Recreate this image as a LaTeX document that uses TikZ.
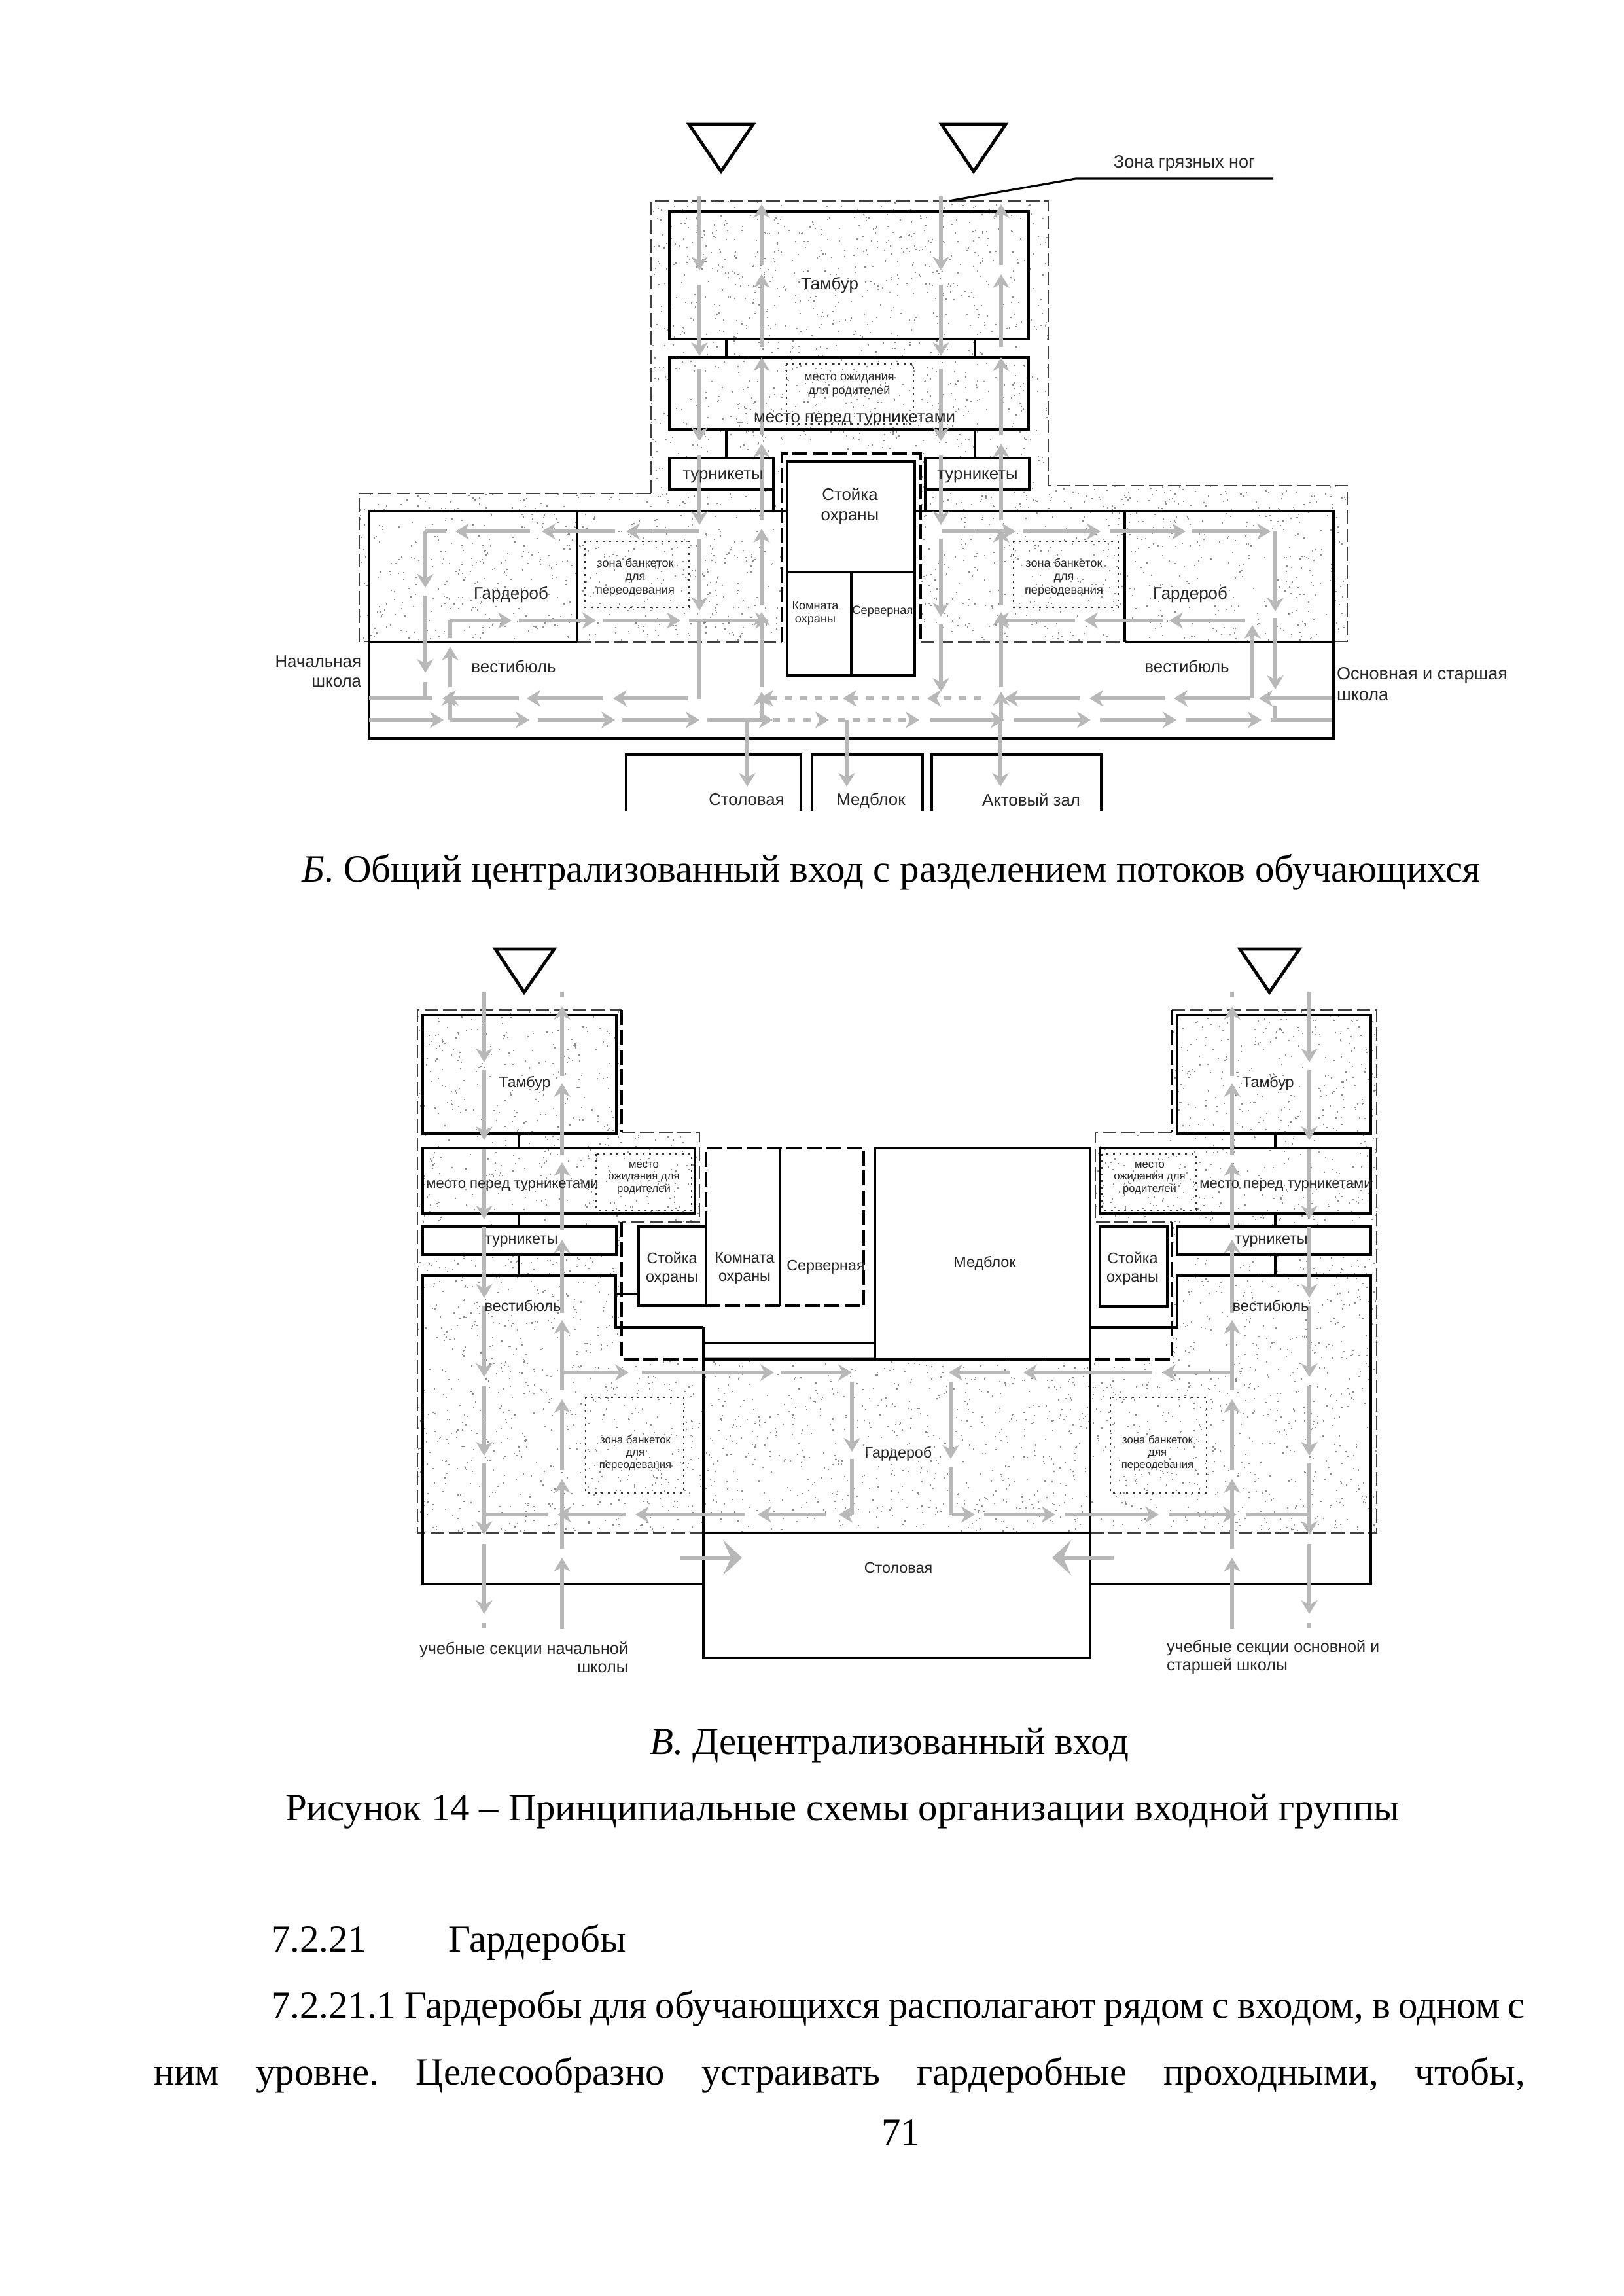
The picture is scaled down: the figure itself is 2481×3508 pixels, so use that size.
\documentclass[tikz,border=0pt]{standalone}
\usepackage{fontspec}
\setmainfont{Liberation Serif}
\newfontfamily\dsans{Liberation Sans}
\usetikzlibrary{arrows.meta,calc}
\definecolor{flowgray}{gray}{0.72}
\newcounter{labn}
\tikzset{
  wall/.style={draw=black,line width=1.15pt,line join=miter},
  thinwall/.style={draw=black,line width=0.75pt},
  room/.style={wall,rectangle,inner sep=0pt,outer sep=0pt},
  zone/.style={draw=black!75,line width=0.5pt,dash pattern=on 5pt off 1.8pt},
  zonethick/.style={draw=black,line width=0.95pt,dash pattern=on 5.5pt off 1.8pt},
  dotbox/.style={draw=black!80,line width=0.65pt,dash pattern=on 0.65pt off 1.75pt},
  fline/.style={draw=flowgray,line width=1.4pt},
  farrow/.style={draw=flowgray,line width=1.4pt,-{Stealth[length=5pt,width=6pt,inset=1.5pt]}},
  fdash/.style={draw=flowgray,line width=1.4pt,dash pattern=on 2.6pt off 3pt,-{Stealth[length=5pt,width=6pt,inset=1.5pt]}},
  farrowbig/.style={draw=flowgray,line width=1.4pt,-{Stealth[length=7pt,width=13pt,inset=3pt]}},
  lab/.style={inner sep=0pt,outer sep=0pt,align=center,text=black!85},
  tL/.style={lab,font=\dsans\fontsize{6.2}{7.3}\selectfont},
  tW/.style={lab,font=\dsans\fontsize{6.5}{7.6}\selectfont},
  tM/.style={lab,font=\dsans\fontsize{5.6}{6.6}\selectfont},
  tN/.style={lab,font=\dsans\fontsize{5.3}{6.2}\selectfont},
  tU/.style={lab,font=\dsans\fontsize{6.05}{6.8}\selectfont},
  tS/.style={lab,font=\dsans\fontsize{4.35}{4.9}\selectfont},
  tT/.style={lab,font=\dsans\fontsize{4}{4.5}\selectfont},
  body/.style={inner sep=0pt,outer sep=0pt,anchor=base west,font=\fontsize{14.13}{16}\selectfont\frenchspacing},
}
% [opts]{name}{x1}{y1}{x2}{y2}
\newcommand\room[6][]{\node[room,#1,minimum width={(#5-#3)*0.24pt},minimum height={(#6-#4)*0.24pt}] (#2) at ({(#3+#5)/2},{(#4+#6)/2}) {};}
\newcommand\lab[4][tL]{\stepcounter{labn}\node[#1] (lab\thelabn) at (#2,#3) {#4};}
\newcommand\vflow[2]{\foreach \a/\b in {#2}{\draw[farrow] (#1,\a) -- (#1,\b);}}
\newcommand\hflow[2]{\foreach \a/\b in {#2}{\draw[farrow] (\a,#1) -- (\b,#1);}}
\newcommand\vplain[2]{\foreach \a/\b in {#2}{\draw[fline] (#1,\a) -- (#1,\b);}}
\newcommand\hplain[2]{\foreach \a/\b in {#2}{\draw[fline] (\a,#1) -- (\b,#1);}}
\newcommand\hdash[2]{\foreach \a/\b in {#2}{\draw[fdash] (\a,#1) -- (\b,#1);}}
\newcommand\stipple[5]{\foreach \i in {1,...,#1}{\pgfmathrandominteger{\rx}{#2}{#4}\pgfmathrandominteger{\ry}{#3}{#5}\fill[black!45] (\rx,\ry) rectangle ++(2,2);}}
\begin{document}
\begin{tikzpicture}[x=0.24pt,y=-0.24pt]
\useasboundingbox (0,0) rectangle (2481,3508);
\fill[white] (0,0) rectangle (2481,3508);
\pgfmathsetseed{714}
% ---------- figure B: stipple
\begin{scope}
\clip (995,307)--(1602,307)--(1602,742)--(2059,742)--(2059,980)--(1407,980)--(1407,693)--(1195,693)--(1195,980)--(549,980)--(549,754)--(995,754)--cycle;
\stipple{4500}{549}{307}{2059}{980}
\end{scope}
% zone outline
\draw[zone] (995,754)--(995,307)--(1602,307)--(1602,742)--(2059,742)--(2059,980)--(1719,980);
\draw[zone] (995,754)--(549,754)--(549,980)--(564,980);
\draw[zone] (882,981)--(1195,981);
\draw[zone] (1407,981)--(1719,981);
\draw[zonethick] (1195,981)--(1195,693)--(1407,693)--(1407,981);
% triangles
\draw[wall] (1053,190)--(1151,190)--(1102,262)--cycle;
\draw[wall] (1439,190)--(1537,190)--(1488,262)--cycle;
% leader
\coordinate (leadA) at (1450,307);
\coordinate (leadB) at (1644,273);
\coordinate (leadC) at (1946,273);
\draw[thinwall] (leadA)--(leadB)--(leadC);
% rooms
\room{hallB}{564}{781}{2038}{1128}
\draw[wall] (564,981)--(882,981);
\draw[wall] (1719,981)--(2038,981);
\draw[wall] (882,781)--(882,981);
\draw[wall] (1719,781)--(1719,981);
\room{tamburB}{1023}{323}{1572}{518}
\room{placeB}{1023}{546}{1572}{656}
\room[fill=white]{turnBL}{1023}{700}{1182}{748}
\room[fill=white]{turnBR}{1414}{700}{1573}{748}
\room[fill=white]{guardB}{1203}{705}{1398}{1032}
\coordinate (gsplit) at (1203,874);
\coordinate (gsplitb) at (1398,874);
\draw[thinwall] (gsplit)--(gsplitb);
\coordinate (gv) at (1301,874);
\draw[thinwall] (gv)--(guardB.south -| gv);
\coordinate (kL) at (1110,0);
\coordinate (kR) at (1490,0);
\draw[thinwall] (tamburB.south -| kL)--(placeB.north -| kL);
\draw[thinwall] (tamburB.south -| kR)--(placeB.north -| kR);
\draw[thinwall] (placeB.south -| kL)--(turnBL.north -| kL);
\draw[thinwall] (placeB.south -| kR)--(turnBR.north -| kR);
\coordinate (kL2) at (1182,0);
\draw[thinwall] (turnBL.south -| kL2)--(hallB.north -| kL2);
\coordinate (kR2) at (1414,0);
\draw[thinwall] (turnBR.south -| kR2)--(hallB.north -| kR2);
\draw[dotbox] (1202,556) rectangle (1396,648);
\draw[dotbox] (894,827) rectangle (1053,928);
\draw[dotbox] (1549,827) rectangle (1709,928);
% lower rooms (open below)
\draw[thinwall] (957,1239)--(957,1153)--(1224,1153)--(1224,1239);
\draw[thinwall] (1241,1239)--(1241,1153)--(1410,1153)--(1410,1239);
\draw[thinwall] (1424,1239)--(1424,1153)--(1683,1153)--(1683,1239);
% flows B
\vflow{1069}{300/413,435/544,564/674,695/802,823/933}
\vplain{1069}{945/1068}
\vflow{1438}{300/413,435/544,564/674,695/802,823/942,954/1057}
\vflow{1164}{1100/1057,1050/935,925/808,795/678,665/546,530/419,405/312}
\vflow{1530}{1100/1057,1050/935,925/808,795/678,665/546,530/419,405/312}
% left corridors
\hflow{812}{1069/957,940/828,810/696}
\hplain{812}{681/650}
\vflow{650}{812/898,910/1028}
\vplain{650}{1042/1066}
\hflow{948}{688/782,793/911,922/1040,1053/1175}
\vflow{688}{1100/1057,1050/988}
\vplain{688}{975/948}
\hflow{1067}{1051/937,922/805,793/676}
\hplain{1067}{661/564}
\hflow{1100}{564/678,687/809,822/940,951/1069,1081/1181}
\hdash{1067}{1500/1417,1405/1288,1280/1161}
\hdash{1100}{1181/1267,1280/1405}
\hflow{1067}{2036/1924,1910/1794,1780/1665,1650/1535}
\hflow{1100}{1422/1535,1550/1667,1681/1798,1812/1928}
\hplain{1100}{1942/2036}
% right corridors
\hflow{812}{1440/1552,1564/1682,1696/1812,1822/1942}
\vflow{1949}{812/934,944/1053}
\vplain{1949}{1078/1100}
\hflow{948}{1903/1787,1777/1657,1643/1521}
\vflow{1914}{1067/955}
% branches
\vflow{1142}{1100/1202}
\vflow{1294}{1100/1202}
\vflow{1529}{1100/1202}
% labels B
\lab[tW]{1810}{250}{Зона грязных ног}
\lab{1268}{436}{Тамбур}
\lab[tS]{1298}{589}{место ожидания\\для родителей}
\lab{1306}{641}{место перед турникетами}
\lab{1105}{728}{турникеты}
\lab{1494}{728}{турникеты}
\lab{1299}{773}{Стойка\\охраны}
\lab[tS]{1246}{937}{Комната\\охраны}
\lab[tS]{1349}{934}{Серверная}
\lab{781}{909}{Гардероб}
\lab{1819}{909}{Гардероб}
\lab[tS]{971}{882}{зона банкеток\\для\\переодевания}
\lab[tS]{1626}{882}{зона банкеток\\для\\переодевания}
\lab{785}{1018}{вестибюль}
\lab{1814}{1018}{вестибюль}
\stepcounter{labn}\node[tL,anchor=east,align=right] (lab\thelabn) at (552,1026) {Начальная\\школа};
\stepcounter{labn}\node[tW,anchor=west,align=left] (lab\thelabn) at (2043,1045) {Основная и старшая\\школа};
\lab{1141}{1222}{Столовая}
\lab{1331}{1224}{Медблок}
\lab{1576}{1222}{Актовый зал}
% ---------- figure V: stipple
\begin{scope}
\clip (638,1543)--(950,1543)--(950,1730)--(1069,1730)--(1069,1867)--(950,1867)--(950,2077)--(1791,2077)--(1791,1867)--(1674,1867)--(1674,1730)--(1791,1730)--(1791,1543)--(2104,1543)--(2104,2342)--(638,2342)--cycle;
\stipple{5000}{638}{1543}{2104}{2342}
\end{scope}
\draw[zone] (1075,2342)--(638,2342)--(638,1543)--(950,1543);
\draw[zonethick] (950,1543)--(950,1730);
\draw[zone] (950,1730)--(1069,1730)--(1069,1867)--(950,1867);
\draw[zonethick] (950,1867)--(950,2077)--(1075,2077);
\draw[zone] (1666,2342)--(2104,2342)--(2104,1543)--(1791,1543);
\draw[zonethick] (1791,1543)--(1791,1730);
\draw[zone] (1791,1730)--(1674,1730)--(1674,1867)--(1791,1867);
\draw[zonethick] (1791,1867)--(1791,2077)--(1666,2077);
% triangles
\draw[wall] (757,1450)--(847,1450)--(801,1516)--cycle;
\draw[wall] (1895,1450)--(1986,1450)--(1940,1516)--cycle;
% rooms left
\room{tamburVL}{646}{1551}{942}{1732}
\room{placeVL}{646}{1754}{1062}{1854}
\room[fill=white]{turnVL}{646}{1874}{942}{1917}
\draw[wall] (1075,2420)--(646,2420)--(646,1949)--(941,1949)--(941,2028)--(1075,2028);
\draw[thinwall] (1075,2028)--(1075,2342);
\coordinate (kVL) at (793,0);
\draw[thinwall] (tamburVL.south -| kVL)--(placeVL.north -| kVL);
\draw[thinwall] (placeVL.south -| kVL)--(turnVL.north -| kVL);
\coordinate (hVL) at (793,1949);
\draw[thinwall] (turnVL.south -| kVL)--(hVL);
% rooms right
\room{tamburVR}{1799}{1551}{2095}{1732}
\room{placeVR}{1681}{1754}{2095}{1854}
\room[fill=white]{turnVR}{1799}{1874}{2095}{1917}
\room{guardVR}{1681}{1874}{1784}{1996}
\draw[wall] (1666,2420)--(2095,2420)--(2095,1949)--(1799,1949)--(1799,2028)--(1666,2028);
\draw[thinwall] (1666,2028)--(1666,2342);
\coordinate (kVR) at (1949,0);
\draw[thinwall] (tamburVR.south -| kVR)--(placeVR.north -| kVR);
\draw[thinwall] (placeVR.south -| kVR)--(turnVR.north -| kVR);
\coordinate (hVR) at (1949,1949);
\draw[thinwall] (turnVR.south -| kVR)--(hVR);
% middle
\room{medV}{1337}{1754}{1666}{2077}
\room{canteenV}{1075}{2342}{1666}{2533}
\draw[wall] (1075,2077)--(medV.south west);
\coordinate (wl) at (1075,2052);
\draw[thinwall] (wl)--(medV.west |- wl);
\room{guardVL}{976}{1874}{1079}{1995}
\coordinate (wc) at (941,1977);
\draw[thinwall] (wc)--(guardVL.west |- wc);
\draw[zonethick] (1079,1874)--(1079,1754)--(1320,1754)--(1320,1995)--(1079,1995);
\coordinate (vs) at (1192,1754);
\coordinate (vsb) at (1192,1995);
\draw[thinwall] (vs)--(vsb);
% dotted
\draw[dotbox] (911,1763) rectangle (1057,1849);
\draw[dotbox] (1684,1763) rectangle (1828,1849);
\draw[dotbox] (895,2135) rectangle (1045,2281);
\draw[dotbox] (1697,2135) rectangle (1844,2281);
% flows V
\vflow{740}{1515/1623,1635/1742,1756/1863,1875/1983,1995/2104,2118/2224,2236/2345,2359/2466}
\vplain{740}{2480/2488}
\vflow{2001}{1515/1623,1635/1742,1756/1863,1875/1983,1995/2104,2118/2224,2236/2345,2359/2466}
\vplain{2001}{2480/2488}
\vflow{859}{2489/2380,2366/2260,2246/2138,2124/2017,2006/1894,1880/1776,1765/1655,1644/1537}
\vplain{859}{1524/1515}
\vflow{1883}{2489/2380,2366/2260,2246/2138,2124/2017,2006/1894,1880/1776,1765/1655,1644/1537}
\vplain{1883}{1524/1515}
\hflow{2097}{859/961,981/1183,1193/1302}
\vflow{1302}{2111/2218}
\vplain{1302}{2229/2314}
\hflow{2314}{1302/1282,1262/1158,1139/971,956/852}
\hplain{2314}{837/743}
\hflow{2097}{1883/1776,1761/1564,1544/1450}
\vflow{1453}{2111/2229}
\vplain{1453}{2241/2314}
\hflow{2314}{1455/1490,1504/1613,1628/1771,1786/1890}
\hplain{2314}{1905/2001}
\draw[farrowbig] (1040,2380)--(1134,2380);
\draw[farrowbig] (1702,2380)--(1608,2380);
% labels V
\lab[tM]{802}{1655}{Тамбур}
\lab[tM]{1938}{1655}{Тамбур}
\lab[tN]{783}{1812}{место перед турникетами}
\lab[tN]{1965}{1812}{место перед турникетами}
\lab[tT]{984}{1800}{место\\ожидания для\\родителей}
\lab[tT]{1757}{1800}{место\\ожидания для\\родителей}
\lab[tM]{797}{1897}{турникеты}
\lab[tM]{1943}{1897}{турникеты}
\lab[tM]{799}{1995}{вестибюль}
\lab[tM]{1942}{1995}{вестибюль}
\lab[tM]{1027}{1938}{Стойка\\охраны}
\lab[tM]{1138}{1938}{Комната\\охраны}
\lab[tM]{1262}{1936}{Серверная}
\lab[tM]{1505}{1930}{Медблок}
\lab[tM]{1731}{1938}{Стойка\\охраны}
\lab[tM]{1373}{2221}{Гардероб}
\lab[tM]{1373}{2395}{Столовая}
\lab[tT]{971}{2220}{зона банкеток\\для\\переодевания}
\lab[tT]{1769}{2220}{зона банкеток\\для\\переодевания}
\stepcounter{labn}\node[tU,anchor=east,align=right] (lab\thelabn) at (960,2532) {учебные секции начальной\\школы};
\stepcounter{labn}\node[tU,anchor=west,align=left] (lab\thelabn) at (1783,2532) {учебные секции основной и\\старшей школы};
% ---------- page text
\node[body] (capB) at (461,1347) {\textit{Б}. Общий централизованный вход с разделением потоков обучающихся};
\node[body] (capV) at (993,2680) {\textit{В}. Децентрализованный вход};
\node[body] (capFig) at (436,2781) {Рисунок 14 – Принципиальные схемы организации входной группы};
\node[body] (sec) at (414,2982) {7.2.21};
\node[body] (secT) at (685,2982) {Гардеробы};
\node[body] (par1) at (414,3083) {\makebox[460.08pt][s]{7.2.21.1 Гардеробы для обучающихся располагают рядом с входом, в одном с}};
\node[body] (par2) at (235,3185) {\makebox[503.04pt][s]{ним уровне. Целесообразно устраивать гардеробные проходными, чтобы,}};
\node[body] (pageno) at (1347,3277) {71};
\end{tikzpicture}
\end{document}
